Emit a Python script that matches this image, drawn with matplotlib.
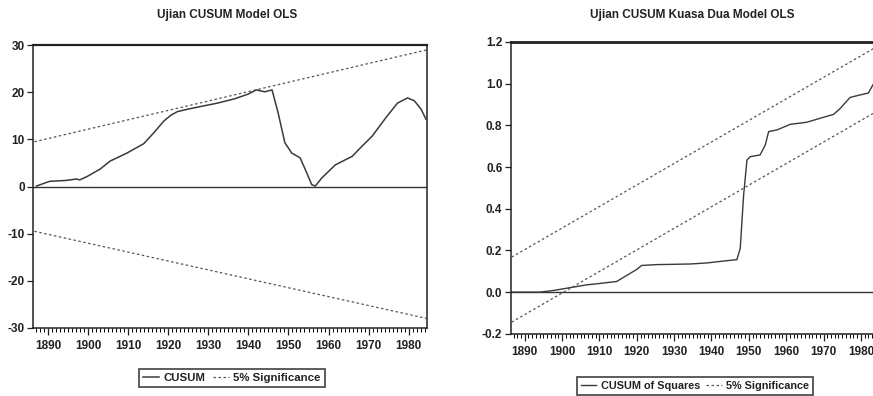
import matplotlib
matplotlib.use("Agg")
import matplotlib.pyplot as plt
from matplotlib.ticker import MultipleLocator

plt.rcParams['font.family'] = ['Liberation Sans Narrow', 'Liberation Sans', 'DejaVu Sans']
plt.rcParams['font.weight'] = 'bold'

# ---------------- data ----------------
# Left chart: CUSUM
cusum_years = [1887.1, 1890.4, 1894.6, 1897.1, 1897.9, 1899.7, 1903.0, 1905.5, 1909.7,
               1913.9, 1916.4, 1918.9, 1920.6, 1922.3, 1924.8, 1928.2, 1932.3, 1936.5,
               1939.9, 1942.0, 1944.1, 1945.9, 1947.4, 1949.1, 1950.8, 1952.9, 1954.2,
               1955.8, 1956.7, 1958.3, 1961.7, 1965.9, 1968.4, 1970.9, 1974.3, 1977.2,
               1979.7, 1981.4, 1983.1, 1984.3]
cusum_vals = [0.1, 1.1, 1.3, 1.6, 1.4, 2.1, 3.7, 5.4, 7.1,
              9.1, 11.4, 13.9, 15.1, 15.9, 16.4, 17.0, 17.7, 18.6,
              19.6, 20.5, 20.1, 20.5, 15.7, 9.3, 7.1, 6.1, 3.6,
              0.4, 0.1, 1.8, 4.6, 6.4, 8.6, 10.7, 14.6, 17.7,
              18.8, 18.2, 16.4, 14.3]
cusum_bound_years = [1886.6, 1984.5]
cusum_upper = [9.5, 29.0]
cusum_lower = [-9.5, -28.0]

# Right chart: CUSUM of squares
cusumsq_years = [1886.5, 1894.1, 1897.7, 1903.0, 1906.6, 1909.3, 1914.6, 1917.3, 1920.0,
                 1921.3, 1925.4, 1934.3, 1938.8, 1943.2, 1946.8, 1947.7, 1948.6, 1949.5,
                 1950.4, 1953.0, 1954.4, 1955.3, 1957.5, 1961.1, 1965.5, 1972.7, 1974.5,
                 1977.1, 1979.8, 1982.0, 1983.4]
cusumsq_vals = [0.0, 0.0, 0.008, 0.024, 0.035, 0.04, 0.051, 0.08, 0.109,
                0.128, 0.132, 0.135, 0.14, 0.149, 0.156, 0.21, 0.465, 0.634,
                0.65, 0.658, 0.706, 0.77, 0.778, 0.805, 0.815, 0.853, 0.882,
                0.934, 0.946, 0.955, 1.0]
sq_bound_years = [1886.5, 1984.5]
sq_upper = [0.168, 1.18]
sq_lower = [-0.144, 0.87]

xticks = [1890, 1900, 1910, 1920, 1930, 1940, 1950, 1960, 1970, 1980]
left_yticks = [-30, -20, -10, 0, 10, 20, 30]
right_yticks = [-0.2, 0.0, 0.2, 0.4, 0.6, 0.8, 1.0, 1.2]

titles = ["Ujian CUSUM Model OLS", "Ujian CUSUM Kuasa Dua Model OLS"]
legend_left = ["CUSUM", "5% Significance"]
legend_right = ["CUSUM of Squares", "5% Significance"]

# ---------------- figure ----------------
fig = plt.figure(figsize=(8.73, 3.96), dpi=100)

line_col = '#3a3a3a'
sig_col = '#555555'


def style_axes(ax, yticks, yfmt):
    ax.set_xlim(1886.25, 1984.5)
    ax.set_xticks(xticks)
    ax.xaxis.set_minor_locator(MultipleLocator(1))
    ax.set_yticks(yticks)
    ax.set_yticklabels([yfmt(v) for v in yticks])
    ax.tick_params(axis='both', which='major', direction='out', length=4, width=0.9,
                   labelsize=8.5, pad=2, colors='#222222')
    ax.tick_params(axis='x', which='major', length=5, pad=4)
    ax.tick_params(axis='x', which='minor', direction='out', length=3, width=0.7)
    for s in ax.spines.values():
        s.set_linewidth(1.1)
        s.set_color('#222222')
    ax.spines['top'].set_linewidth(1.6)
    for lab in ax.get_xticklabels() + ax.get_yticklabels():
        lab.set_fontweight('bold')


# Left axes
ax1 = fig.add_axes([0.0378, 0.172, 0.451, 0.714])
ax1.axhline(0, color='#333333', lw=1.0)
l1, = ax1.plot(cusum_years, cusum_vals, color=line_col, lw=1.1)
d1, = ax1.plot(cusum_bound_years, cusum_upper, color=sig_col, lw=0.9, ls=(0, (2, 2)))
ax1.plot(cusum_bound_years, cusum_lower, color=sig_col, lw=0.9, ls=(0, (2, 2)))
ax1.set_ylim(-30, 30)
style_axes(ax1, left_yticks, lambda v: f"{v:d}")

# Right axes
ax2 = fig.add_axes([0.585, 0.157, 0.4204, 0.737])
ax2.axhline(0, color='#333333', lw=1.0)
l2, = ax2.plot(cusumsq_years, cusumsq_vals, color=line_col, lw=1.0)
d2, = ax2.plot(sq_bound_years, sq_upper, color=sig_col, lw=0.9, ls=(0, (2, 2)))
ax2.plot(sq_bound_years, sq_lower, color=sig_col, lw=0.9, ls=(0, (2, 2)))
ax2.set_ylim(-0.2, 1.2)
style_axes(ax2, right_yticks, lambda v: f"{v:.1f}")
ax2.spines['top'].set_linewidth(2.0)

# Titles
fig.text(227 / 873, 1 - 15 / 396, titles[0], ha='center', va='center',
         fontsize=8.5, fontweight='bold', color='#222222')
fig.text(692 / 873, 1 - 15 / 396, titles[1], ha='center', va='center',
         fontsize=8.5, fontweight='bold', color='#222222')

# Legends
leg_kw = dict(ncol=2, frameon=True, fancybox=False, handlelength=1.4,
              handletextpad=0.4, columnspacing=0.6, borderpad=0.35, borderaxespad=0)
lg1 = fig.legend([l1, d1], legend_left, loc='center', fontsize=8.2,
                 bbox_to_anchor=(232 / 873, 1 - 378 / 396), **leg_kw)
lg2 = fig.legend([l2, d2], legend_right, loc='center', fontsize=7.8,
                 bbox_to_anchor=(695 / 873, 1 - 386 / 396), **leg_kw)
for lg in (lg1, lg2):
    fr = lg.get_frame()
    fr.set_edgecolor('#111111')
    fr.set_linewidth(1.2)
    for t in lg.get_texts():
        t.set_fontweight('bold')
        t.set_color('#222222')

fig.savefig('out.png', dpi=100, facecolor='white')
